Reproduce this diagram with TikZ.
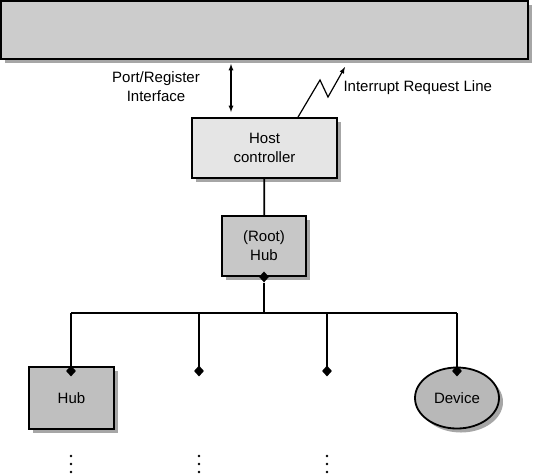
\documentclass[tikz,border=0pt]{standalone}
\usepackage{fontspec}
\setmainfont{Liberation Sans}
\usepackage{tikz}
\usetikzlibrary{shapes,arrows,positioning,shadows}

\begin{document}
\begin{tikzpicture}[
    x=1pt, y=-1pt,
    every node/.style={font=\fontsize{15}{19}\selectfont},
    shade/.style={drop shadow={shadow xshift=4pt, shadow yshift=-4pt, fill=black!35, opacity=1}},
    box/.style={rectangle, draw, line width=1.8pt, align=center, inner sep=0pt, shade},
    tip/.style={diamond, fill=black, inner sep=0pt, minimum width=10pt, minimum height=11pt},
    line/.style={line width=1.8pt},
    arrow/.style={-latex, line width=1.2pt}
]
\useasboundingbox (0,0) rectangle (533,475);

\node[box, fill=black!20, minimum width=527pt, minimum height=58pt] (bar) at (264.5,30) {};
\node[box, fill=black!10, minimum width=145pt, minimum height=60pt] (host) at (264.5,148) {Host\\controller};
\node[box, fill=black!22, minimum width=84pt, minimum height=60pt] (root) at (264,246) {(Root)\\Hub};
\node[box, fill=black!25, minimum width=85pt, minimum height=62pt] (hub) at (71.5,398) {Hub};
\node[ellipse, draw, line width=1.8pt, fill=black!28, inner sep=0pt, minimum width=84pt, minimum height=61pt, shade] (device) at (457,398) {Device};

\node[align=center] (portlbl) at (156,87) {Port/Register\\Interface};
\node[anchor=west] (irqlbl) at (340,88) {Interrupt Request Line};

% bus
\node[tip] (rootport) at (root.south) {};
\coordinate (busl) at (71,313);
\coordinate (busr) at (457,313);
\node[tip] (p1) at (71,371) {};
\node[tip] (p2) at (199,371) {};
\node[tip] (p3) at (327,371) {};
\node[tip] (p4) at (457,371) {};

\draw[line] (host) -- (root);
\draw[line] (rootport) -- (rootport |- busl);
\draw[line] (busl) -- (busr);
\foreach \p in {p1,p2,p3,p4}
    \draw[line] (\p |- busl) -- (\p.center);

% port/register and interrupt lines
\coordinate (prt) at (231,0);
\draw[latex-latex, line width=1.2pt, shorten <=4pt, shorten >=5pt] (bar.south -| prt) -- (host.north -| prt);
\coordinate (irq) at (298,0);
\draw[arrow] (host.north -| irq) -- (320,80) -- (328,97) -- (345,67);

% continuation dots
\foreach \x in {71,199,327}
    \foreach \y in {456,464,472}
        \fill (\x,\y) circle (1.3pt);
\end{tikzpicture}
\end{document}
